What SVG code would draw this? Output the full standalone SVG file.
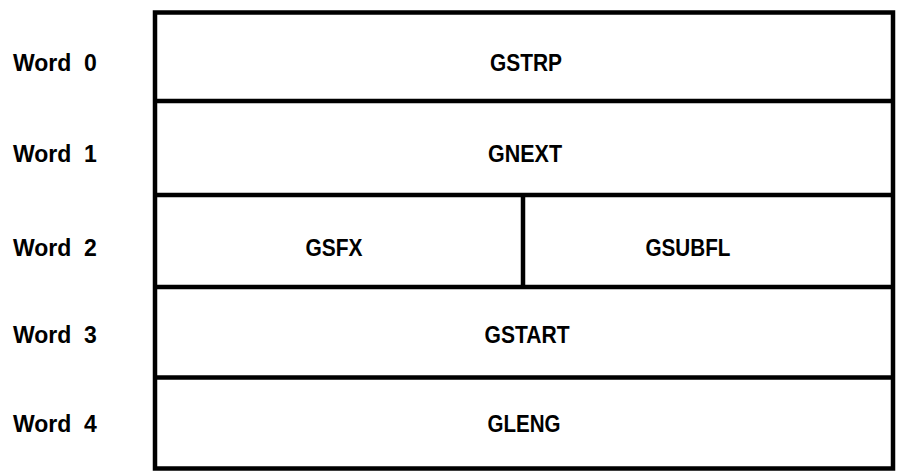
<svg xmlns="http://www.w3.org/2000/svg" width="898" height="473" viewBox="0 0 898 473">
  <style>
    .frame { fill: #ffffff; stroke: #000000; stroke-width: 4.5; }
    .rule { stroke: #000000; stroke-width: 4.5; fill: none; }
    .field { font-family: "Liberation Sans", Arial, sans-serif; font-weight: bold; font-size: 23px; fill: #000000; text-anchor: middle; }
    .word { font-family: "Liberation Sans", Arial, sans-serif; font-weight: bold; font-size: 23px; fill: #000000; }
  </style>
  <rect width="898" height="473" fill="#ffffff"/>

  <!-- word labels -->
  <g id="labels">
    <text class="word" x="13" y="71">Word <tspan x="84">0</tspan></text>
    <text class="word" x="13" y="162">Word <tspan x="84">1</tspan></text>
    <text class="word" x="13" y="256">Word <tspan x="84">2</tspan></text>
    <text class="word" x="13" y="343">Word <tspan x="84">3</tspan></text>
    <text class="word" x="13" y="432">Word <tspan x="84">4</tspan></text>
  </g>

  <!-- outer frame and row/field dividers -->
  <g id="record">
    <rect class="frame" x="155" y="12.5" width="738" height="456"/>
    <line class="rule" x1="155" y1="101" x2="893" y2="101"/>
    <line class="rule" x1="155" y1="195" x2="893" y2="195"/>
    <line class="rule" x1="155" y1="287" x2="893" y2="287"/>
    <line class="rule" x1="155" y1="377.5" x2="893" y2="377.5"/>
    <line class="rule" x1="523" y1="195" x2="523" y2="287"/>
  </g>

  <g id="gstrp"><text class="field" x="526" y="71" textLength="72" lengthAdjust="spacingAndGlyphs">GSTRP</text></g>
  <g id="gnext"><text class="field" x="525" y="162" textLength="74" lengthAdjust="spacingAndGlyphs">GNEXT</text></g>
  <g id="gsfx"><text class="field" x="334" y="256" textLength="57" lengthAdjust="spacingAndGlyphs">GSFX</text></g>
  <g id="gsubfl"><text class="field" x="688" y="256" textLength="85" lengthAdjust="spacingAndGlyphs">GSUBFL</text></g>
  <g id="gstart"><text class="field" x="527" y="343" textLength="85" lengthAdjust="spacingAndGlyphs">GSTART</text></g>
  <g id="gleng"><text class="field" x="524" y="432" textLength="73" lengthAdjust="spacingAndGlyphs">GLENG</text></g>
</svg>
